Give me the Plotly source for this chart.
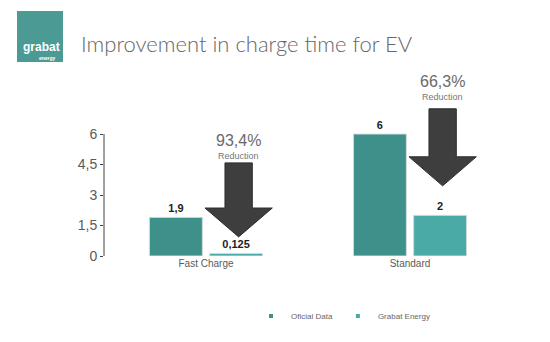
import plotly.graph_objects as go

categories = ["Fast Charge", "Standard"]
official_data = [1.9, 6]
grabat_energy = [0.125, 2]
reductions = ["93,4%", "66,3%"]
y_ticks = [0, 1.5, 3, 4.5, 6]

COL_OFF = "#3d918a"
COL_GRB = "#4aaaa5"
TXT = "#5a5a5a"

W, H = 550, 342
L, R, T, B = 104, 38, 60, 86
PW, PH = W - L - R, H - T - B
YMAX = PH / 20.33


def px(xp):
    return (xp - L) / PW


def py(yp):
    return (H - B - yp) / PH


def fmt(v):
    return f"{v:g}".replace(".", ",")


fig = go.Figure()
fig.add_trace(go.Bar(x=categories, y=official_data, name="Oficial Data",
                     marker=dict(color=COL_OFF, line=dict(color="#d3dcdc", width=1)),
                     text=[fmt(v) for v in official_data], textposition="outside",
                     textfont=dict(size=11, color="#222", family="Liberation Sans", weight="bold"),
                     cliponaxis=False, showlegend=False))
fig.add_trace(go.Bar(x=categories, y=grabat_energy, name="Grabat Energy",
                     marker=dict(color=COL_GRB, line=dict(color="#d3dcdc", width=1)),
                     text=[fmt(v) for v in grabat_energy], textposition="outside",
                     textfont=dict(size=11, color="#222", family="Liberation Sans", weight="bold"),
                     cliponaxis=False, showlegend=False))
# legend entries (small square markers)
fig.add_trace(go.Scatter(x=[None], y=[None], mode="markers", name="Oficial Data",
                         marker=dict(symbol="square", size=4, color=COL_OFF)))
fig.add_trace(go.Scatter(x=[None], y=[None], mode="markers", name="Grabat Energy",
                         marker=dict(symbol="square", size=4, color=COL_GRB)))

# reduction arrows over the Grabat bars
OFFS = 0.16
shapes = []
annotations = []
arrow_geo = [(4.58, 2.36, 0.94), (7.24, 4.88, 3.45)]
label_gap = [(1.12, 0.36), (1.32, 0.56)]
for i, (top, neck, tip) in enumerate(arrow_geo):
    c = i + OFFS
    sw, hw = 0.067, 0.165
    path = (f"M{c-sw},{top} L{c+sw},{top} L{c+sw},{neck} L{c+hw},{neck} "
            f"L{c},{tip} L{c-hw},{neck} L{c-sw},{neck} Z")
    shapes.append(dict(type="path", xref="x", yref="y", path=path,
                       fillcolor="#3e3e3e", line=dict(color="#2e2e2e", width=1), layer="above"))
    annotations.append(dict(x=c, y=top + label_gap[i][0], xref="x", yref="y", text=reductions[i],
                            showarrow=False, font=dict(size=16, color="#6a6a6a", family="Liberation Sans"),
                            xanchor="center", yanchor="middle"))
    annotations.append(dict(x=c, y=top + label_gap[i][1], xref="x", yref="y", text="Reduction",
                            showarrow=False, font=dict(size=9, color="#777", family="Liberation Sans"),
                            xanchor="center", yanchor="middle"))

# y axis line
shapes.append(dict(type="line", xref="paper", yref="y", x0=0, x1=0, y0=0, y1=6,
                   line=dict(color="#444", width=1)))
# logo
shapes.append(dict(type="rect", xref="paper", yref="paper", x0=px(17), x1=px(63),
                   y0=py(62), y1=py(11), fillcolor="#4b9a94", line=dict(width=0), layer="below"))
annotations.append(dict(x=px(41), y=py(47), xref="paper", yref="paper", text="<b>grabat</b>",
                        showarrow=False, font=dict(size=12, color="white", family="Liberation Sans"),
                        xanchor="center", yanchor="middle"))
annotations.append(dict(x=px(48), y=py(58), xref="paper", yref="paper", text="<b>energy</b>",
                        showarrow=False, font=dict(size=5, color="white", family="Liberation Sans"),
                        xanchor="center", yanchor="middle"))
# title
annotations.append(dict(x=px(79), y=py(44), xref="paper", yref="paper",
                        text="Improvement in charge time for EV", showarrow=False,
                        xanchor="left", yanchor="middle",
                        font=dict(size=22, color="#666", family="Lato", weight=300)))

fig.update_layout(
    width=W, height=H,
    margin=dict(l=L, r=R, t=T, b=B),
    paper_bgcolor="white", plot_bgcolor="white",
    barmode="group", bargap=0.41, bargroupgap=0.12,
    separators=",.",
    shapes=shapes, annotations=annotations,
    showlegend=True,
    legend=dict(orientation="h", x=px(251), y=py(316), xanchor="left", yanchor="middle",
                font=dict(size=8, color="#666", family="Liberation Sans"),
                itemwidth=30, bgcolor="rgba(0,0,0,0)"),
    xaxis=dict(showline=False, showgrid=False, zeroline=False, ticks="",
               tickfont=dict(size=10, color=TXT, family="Liberation Sans"),
               range=[-0.5, 1.5]),
    yaxis=dict(range=[0, YMAX], showgrid=False, zeroline=False, showline=False,
               tickvals=y_ticks, ticktext=[fmt(v) for v in y_ticks],
               ticks="outside", ticklen=3, tickcolor="#444",
               tickfont=dict(size=14, color=TXT, family="Liberation Sans")),
)

fig.write_html("out.html")
